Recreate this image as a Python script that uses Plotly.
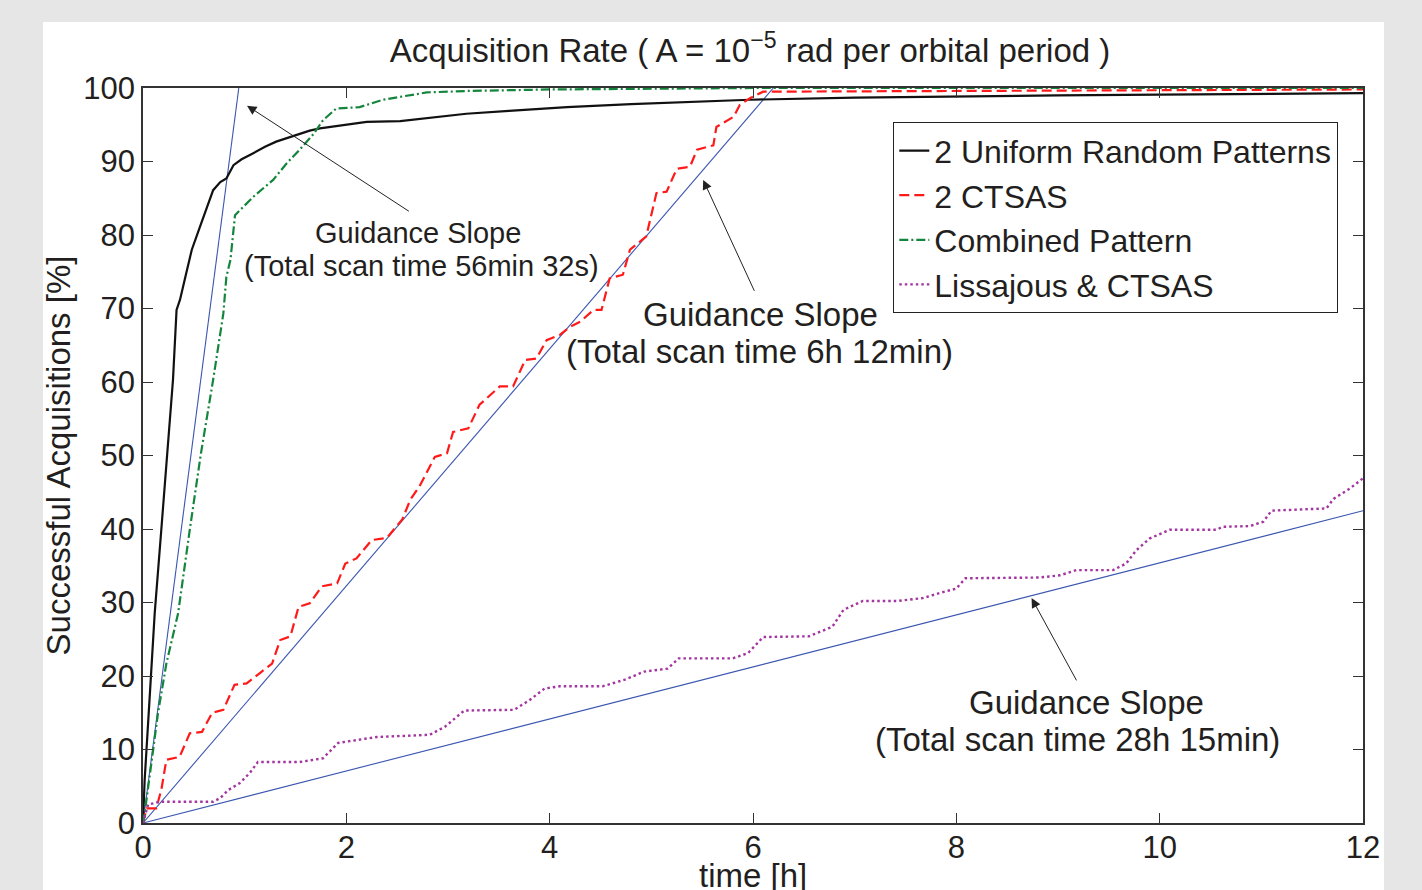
import plotly.graph_objects as go

# ---- data ----
black_t = [0, 0.016, 0.066, 0.115, 0.18, 0.246, 0.295, 0.33, 0.364, 0.42, 0.48, 0.56, 0.62, 0.69, 0.76, 0.82, 0.89, 0.97, 1.08, 1.2, 1.31, 1.42, 1.54, 1.64, 1.74, 1.9, 2.04, 2.2, 2.53, 2.92, 3.18, 3.6, 4.17, 4.8, 5.31, 5.97, 7.0, 8.0, 9.0, 10.0, 11.0, 12.0]
black_y = [0, 5.8, 17.2, 28.5, 39.9, 51.2, 60.3, 69.8, 71.2, 74.5, 78.0, 81.1, 83.5, 86.1, 87.2, 87.7, 89.5, 90.3, 91.1, 92.0, 92.7, 93.2, 93.8, 94.2, 94.5, 94.8, 95.0, 95.4, 95.5, 96.1, 96.5, 96.9, 97.4, 97.8, 98.1, 98.4, 98.7, 98.9, 99.0, 99.1, 99.2, 99.3]

red_t = [0, 0.036, 0.13, 0.18, 0.23, 0.36, 0.46, 0.58, 0.68, 0.79, 0.90, 1.02, 1.15, 1.27, 1.35, 1.45, 1.53, 1.64, 1.76, 1.91, 1.99, 2.1, 2.25, 2.4, 2.55, 2.63, 2.72, 2.87, 2.99, 3.05, 3.2, 3.31, 3.51, 3.64, 3.76, 3.87, 3.97, 4.1, 4.2, 4.3, 4.43, 4.51, 4.59, 4.72, 4.79, 4.95, 5.05, 5.15, 5.25, 5.38, 5.45, 5.61, 5.64, 5.81, 5.87, 5.97, 6.1, 8.0, 10.0, 12.0]
red_y = [0, 2.0, 2.0, 4.5, 8.6, 9.0, 12.2, 12.4, 15.0, 15.4, 18.8, 19.0, 20.4, 21.7, 24.9, 25.4, 29.4, 29.9, 32.2, 32.6, 35.3, 36.0, 38.5, 38.8, 41.3, 44.0, 45.8, 49.8, 50.3, 53.2, 53.7, 56.9, 59.4, 59.4, 63.0, 63.2, 65.7, 66.4, 67.5, 68.2, 69.8, 69.8, 74.1, 74.6, 78.0, 79.8, 85.7, 85.9, 89.0, 89.3, 91.6, 92.2, 94.7, 96.1, 97.7, 98.6, 99.5, 99.6, 99.7, 99.8]

green_t = [0, 0.016, 0.082, 0.148, 0.23, 0.345, 0.46, 0.57, 0.69, 0.79, 0.82, 0.86, 0.905, 1.085, 1.28, 1.41, 1.54, 1.68, 1.77, 1.9, 2.13, 2.36, 2.79, 3.2, 4.0, 5.0, 6.0, 12.0]
green_y = [0, 1.3, 8.1, 15.0, 21.7, 28.5, 39.9, 50.3, 60.3, 69.3, 74.3, 76.6, 82.7, 85.2, 87.5, 89.7, 91.6, 93.8, 95.6, 97.2, 97.4, 98.4, 99.4, 99.6, 99.8, 99.9, 100.0, 100.0]

purple_t = [0, 0.05, 0.167, 0.69, 0.76, 0.84, 0.95, 1.05, 1.13, 1.54, 1.77, 1.92, 2.30, 2.82, 2.97, 3.16, 3.65, 3.80, 3.95, 4.10, 4.52, 4.74, 4.93, 5.16, 5.27, 5.80, 5.95, 6.10, 6.55, 6.78, 6.89, 7.08, 7.42, 7.67, 7.84, 8.0, 8.09, 8.82, 9.02, 9.18, 9.54, 9.67, 9.77, 9.9, 10.1, 10.56, 10.62, 10.89, 11.02, 11.1, 11.64, 11.71, 11.87, 12.0]
purple_y = [0, 2.5, 2.9, 2.9, 3.4, 4.5, 5.4, 6.8, 8.3, 8.3, 8.8, 10.9, 11.7, 12.0, 13.1, 15.3, 15.4, 16.7, 18.3, 18.6, 18.6, 19.5, 20.6, 21.0, 22.4, 22.4, 23.1, 25.3, 25.4, 26.7, 29.0, 30.2, 30.2, 30.6, 31.3, 31.9, 33.3, 33.4, 33.7, 34.4, 34.4, 35.3, 37.1, 38.7, 39.9, 39.9, 40.3, 40.4, 41.0, 42.5, 42.8, 44.1, 45.5, 46.9]

# guidance slopes: total scan times in hours (56min 32s, 6h 12min, 28h 15min)
guidance_hours = [56 / 60 + 32 / 3600, 6 + 12 / 60, 28 + 15 / 60]
guidance_line1 = ["Guidance Slope", "Guidance Slope", "Guidance Slope"]
guidance_line2 = ["(Total scan time 56min 32s)", "(Total scan time 6h 12min)", "(Total scan time 28h 15min)"]
# annotation placement (data coords)
line1_pos = [(2.705, 80.3), (6.069, 69.25), (9.285, 16.45)]
line2_pos = [(2.744, 75.8), (6.064, 64.1), (9.192, 11.3)]
arrow_tail = [(2.63, 83.1), (6.02, 72.2), (9.19, 19.2)]
arrow_head = [(1.023, 97.6), (5.51, 87.5), (8.74, 30.6)]
label_size = [29, 33, 33]

x_ticks = [0, 2, 4, 6, 8, 10, 12]
y_ticks = [0, 10, 20, 30, 40, 50, 60, 70, 80, 90, 100]
X_MAX = 12

FONT = "Liberation Sans, Arial, Helvetica, sans-serif"
TXT = "#231f20"

fig = go.Figure()

# guidance lines
for T in guidance_hours:
    xe = min(T, X_MAX)
    fig.add_trace(go.Scatter(x=[0, xe], y=[0, 100 * xe / T], mode="lines",
                             line=dict(color="#3a56b0", width=1.1),
                             showlegend=False, hoverinfo="skip"))

fig.add_trace(go.Scatter(x=black_t, y=black_y, mode="lines", name="2 Uniform Random Patterns",
                         line=dict(color="#111111", width=2.2)))
fig.add_trace(go.Scatter(x=red_t, y=red_y, mode="lines", name="2 CTSAS",
                         line=dict(color="#ff1a1a", width=2.2, dash="10px,5px")))
fig.add_trace(go.Scatter(x=green_t, y=green_y, mode="lines", name="Combined Pattern",
                         line=dict(color="#14853c", width=2.2, dash="9px,3px,2px,3px")))
fig.add_trace(go.Scatter(x=purple_t, y=purple_y, mode="lines", name="Lissajous & CTSAS",
                         line=dict(color="#a3359f", width=2.4, dash="2.5px,3px")))

annotations = []
for (l1x, l1y), (l2x, l2y), (ax_, ay_), (hx, hy), t1, t2, fs in zip(
        line1_pos, line2_pos, arrow_tail, arrow_head, guidance_line1, guidance_line2, label_size):
    annotations.append(dict(x=hx, y=hy, ax=ax_, ay=ay_, xref="x", yref="y", axref="x", ayref="y",
                            text="", showarrow=True, arrowhead=2, arrowsize=1.9, arrowwidth=1,
                            arrowcolor="#222222"))
    annotations.append(dict(x=l1x, y=l1y, xref="x", yref="y", text=t1, showarrow=False,
                            xanchor="center", yanchor="middle",
                            font=dict(size=fs, color=TXT, family=FONT)))
    annotations.append(dict(x=l2x, y=l2y, xref="x", yref="y", text=t2, showarrow=False,
                            xanchor="center", yanchor="middle",
                            font=dict(size=fs, color=TXT, family=FONT)))

# x-axis title placed just below the tick labels (as in the original)
annotations.append(dict(x=0.5, y=(823 - 876) / 735, xref="paper", yref="paper",
                        text="time [h]", showarrow=False, xanchor="center", yanchor="middle",
                        font=dict(size=33, color=TXT, family=FONT)))

fig.update_layout(
    width=1422, height=890,
    margin=dict(l=143, r=59, t=88, b=67, autoexpand=False),
    paper_bgcolor="#e6e6e6",
    plot_bgcolor="white",
    font=dict(family=FONT, color=TXT),
    title=dict(text="Acquisition Rate ( A = 10<sup>\u22125</sup> rad per orbital period )",
               x=750 / 1422, xanchor="center", y=1 - 50 / 890, yanchor="middle",
               font=dict(size=33, color=TXT, family=FONT)),
    showlegend=True,
    legend=dict(x=(893 - 143) / 1220, y=(823 - 122) / 735, xanchor="left", yanchor="top",
                bgcolor="white", bordercolor="#222222", borderwidth=1.3,
                font=dict(size=32, color=TXT, family=FONT), itemwidth=30,
                tracegroupgap=0),
    annotations=annotations,
    shapes=[dict(type="rect", xref="paper", yref="paper",
                 x0=(43 - 143) / 1220, x1=(1384 - 143) / 1220,
                 y0=(823 - 895) / 735, y1=(823 - 22) / 735,
                 fillcolor="white", line=dict(width=0), layer="below")],
)

fig.update_xaxes(range=[0, X_MAX], tickvals=x_ticks, ticktext=[str(v) for v in x_ticks],
                 ticks="inside", ticklen=10, tickwidth=1.2, tickcolor="#333333",
                 showline=True, linecolor="#333333", linewidth=1.6, mirror="ticks",
                 showgrid=False, zeroline=False, automargin=False, ticklabelstandoff=-4,
                 tickfont=dict(size=31, color=TXT, family=FONT))
fig.update_yaxes(range=[0, 100], tickvals=y_ticks, ticktext=[str(v) for v in y_ticks],
                 ticks="inside", ticklen=10, tickwidth=1.2, tickcolor="#333333",
                 showline=True, linecolor="#333333", linewidth=1.6, mirror="ticks",
                 showgrid=False, zeroline=False, automargin=False,
                 tickfont=dict(size=31, color=TXT, family=FONT),
                 title=dict(text="Successful Acquisitions [%]", font=dict(size=33, color=TXT, family=FONT), standoff=3))

fig.write_html("out.html")
